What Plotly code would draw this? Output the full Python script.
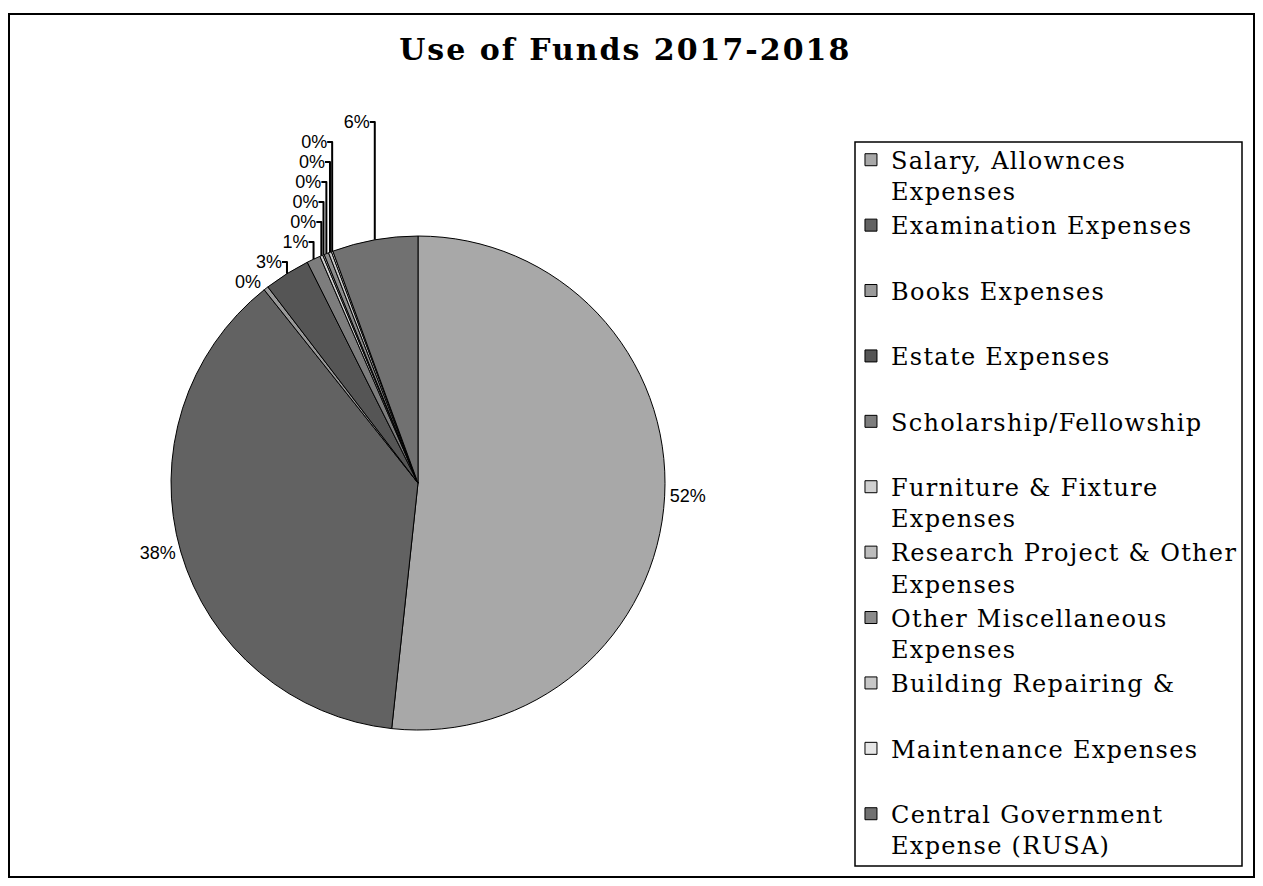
import plotly.graph_objects as go

# slices in drawing order (clockwise from 12 o'clock)
categories = [
    "Salary, Allownces<br>Expenses",
    "Examination Expenses<br> ",
    "Books Expenses<br> ",
    "Estate Expenses<br> ",
    "Scholarship/Fellowship<br> ",
    "Furniture & Fixture<br>Expenses",
    "Research Project & Other<br>Expenses",
    "Other Miscellaneous<br>Expenses",
    "Building Repairing &<br> ",
    "Maintenance Expenses<br> ",
    "Central Government<br>Expense (RUSA)",
]
shares = [51.7, 37.6, 0.3, 3.0, 0.9, 0.2, 0.1, 0.3, 0.2, 0.1, 5.6]
slice_colors = ["#a8a8a8", "#626262", "#9a9a9a", "#555555", "#7d7d7d",
                "#d0d0d0", "#bdbdbd", "#8c8c8c", "#c8c8c8", "#e6e6e6", "#717171"]

W, H = 1247, 870  # page body adds an 8px margin round the figure

# the scanned legend font is wide, so space the letters out a little
legend_labels = ["<span style='letter-spacing:1.3px'>" + c + "</span>" for c in categories]

fig = go.Figure()
fig.add_trace(go.Pie(
    labels=legend_labels,
    values=shares,
    sort=False,
    direction="clockwise",
    rotation=0,
    marker=dict(colors=slice_colors, line=dict(color="black", width=1)),
    textposition="outside",
    texttemplate="%{percent:.0%}",
    textfont=dict(family="Liberation Sans, Arial, sans-serif", size=18, color="black"),
    domain=dict(x=[0.1307, 0.5269], y=[0.1701, 0.7379]),
    hoverinfo="label+percent",
))

fig.update_layout(
    width=W, height=H,
    margin=dict(l=0, r=0, t=0, b=0),
    paper_bgcolor="white",
    title=dict(text="<b><span style='letter-spacing:2px'>Use of Funds 2017-2018</span></b>",
               x=0.495, y=0.952, xanchor="center", yanchor="middle",
               font=dict(family="DejaVu Serif, serif", size=30, color="black")),
    legend=dict(x=0.676, y=0.851, xanchor="left", yanchor="top",
                borderwidth=0, bgcolor="rgba(0,0,0,0)",
                valign="top", itemwidth=30, maxheight=780,
                font=dict(family="DejaVu Serif, serif", size=24, color="black")),
    shapes=[
        # outer frame
        dict(type="rect", xref="paper", yref="paper",
             x0=0.0008, x1=0.9992, y0=0.0012, y1=1 - 6 / H,
             line=dict(color="black", width=2)),
        # legend box
        dict(type="rect", xref="paper", yref="paper",
             x0=847 / W, x1=1234 / W, y0=1 - 858 / H, y1=1 - 134 / H,
             line=dict(color="black", width=1.5)),
    ],
)

fig.write_html("out.html")
